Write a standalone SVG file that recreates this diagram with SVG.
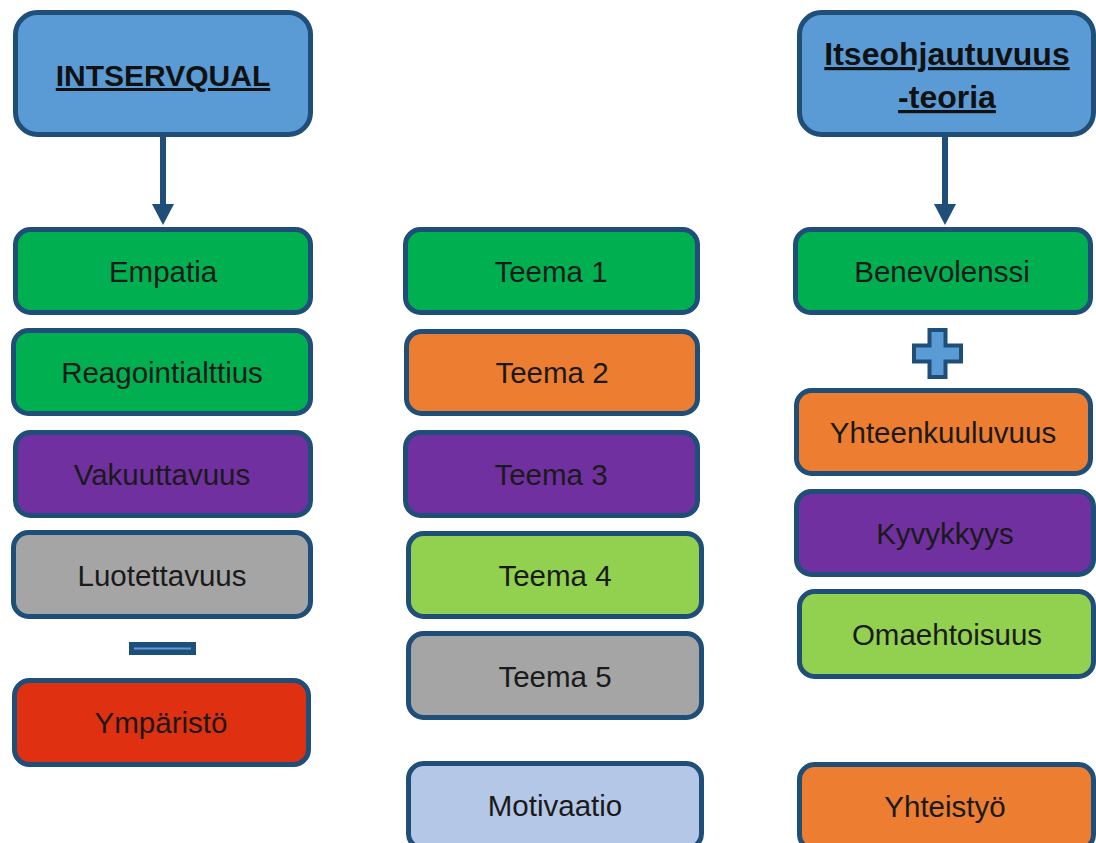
<svg xmlns="http://www.w3.org/2000/svg" width="1096" height="843" viewBox="0 0 1096 843">
<style>
.box{stroke:#1F4E79;stroke-width:5}
.lbl{font-family:"Liberation Sans",Arial,sans-serif;font-size:29.5px;fill:#1a1a1a;text-anchor:middle}
.ttl{font-family:"Liberation Sans",Arial,sans-serif;font-size:30px;font-weight:bold;fill:#111;text-anchor:middle;text-decoration:underline}
.ttl2{font-size:32px}
.blue{fill:#5B9BD5}.green{fill:#00B050}.orange{fill:#ED7D31}.purple{fill:#7030A0}.gray{fill:#A5A5A5}.lgreen{fill:#92D050}.red{fill:#DF3012}.lblue{fill:#B4C7E7}
</style>
<rect width="1096" height="843" fill="#fff"/>
<g id="connectors">
<line x1="163" y1="137" x2="163" y2="207" stroke="#1F4E79" stroke-width="6"/>
<polygon points="152,204 174,204 163,225" fill="#1F4E79"/>
<line x1="945" y1="137" x2="945" y2="207" stroke="#1F4E79" stroke-width="6"/>
<polygon points="934,204 956,204 945,225" fill="#1F4E79"/>
</g>
<g id="intservqual"><rect class="box blue" x="15.5" y="12.5" width="295" height="122" rx="22"/><text class="ttl" x="163" y="86">INTSERVQUAL</text></g>
<g id="itseohjautuvuus"><rect class="box blue" x="799.5" y="12.5" width="294" height="122" rx="22"/><text class="ttl ttl2" x="947" y="65">Itseohjautuvuus</text><text class="ttl ttl2" x="947" y="108">-teoria</text></g>
<g id="empatia"><rect class="box green" x="15.5" y="229.5" width="295" height="83" rx="15"/><text class="lbl" x="163" y="282">Empatia</text></g>
<g id="reagointialttius"><rect class="box green" x="13.5" y="330.5" width="297" height="83" rx="15"/><text class="lbl" x="162" y="383">Reagointialttius</text></g>
<g id="vakuuttavuus"><rect class="box purple" x="15.5" y="432.5" width="295" height="83" rx="15"/><text class="lbl" x="162" y="485">Vakuuttavuus</text></g>
<g id="luotettavuus"><rect class="box gray" x="13.5" y="532.5" width="297" height="84" rx="15"/><text class="lbl" x="162" y="586">Luotettavuus</text></g>
<g id="minus"><rect x="129" y="642" width="67" height="13" fill="#1F4E79"/><rect x="134" y="647.5" width="57" height="2" fill="#5B9BD5"/></g>
<g id="ymparisto"><rect class="box red" x="14.5" y="680.5" width="294" height="84" rx="15"/><text class="lbl" x="161" y="733">Ympäristö</text></g>
<g id="teema1"><rect class="box green" x="405.5" y="229.5" width="292" height="83" rx="15"/><text class="lbl" x="551" y="282">Teema 1</text></g>
<g id="teema2"><rect class="box orange" x="406.5" y="331.5" width="291" height="82" rx="15"/><text class="lbl" x="552" y="383">Teema 2</text></g>
<g id="teema3"><rect class="box purple" x="405.5" y="432.5" width="292" height="83" rx="15"/><text class="lbl" x="551" y="485">Teema 3</text></g>
<g id="teema4"><rect class="box lgreen" x="408.5" y="533.5" width="293" height="83" rx="15"/><text class="lbl" x="555" y="586">Teema 4</text></g>
<g id="teema5"><rect class="box gray" x="408.5" y="633.5" width="293" height="84" rx="15"/><text class="lbl" x="555" y="687">Teema 5</text></g>
<g id="motivaatio"><rect class="box lblue" x="408.5" y="763.5" width="293" height="85" rx="15"/><text class="lbl" x="555" y="816">Motivaatio</text></g>
<g id="benevolenssi"><rect class="box green" x="795.5" y="229.5" width="295" height="83" rx="15"/><text class="lbl" x="942" y="282">Benevolenssi</text></g>
<g id="plus"><polygon points="929.5,330 945.5,330 945.5,345.5 961,345.5 961,361.5 945.5,361.5 945.5,377 929.5,377 929.5,361.5 914,361.5 914,345.5 929.5,345.5" fill="#5B9BD5" stroke="#1F4E79" stroke-width="4"/></g>
<g id="yhteenkuuluvuus"><rect class="box orange" x="796.5" y="390.5" width="294" height="83" rx="15"/><text class="lbl" x="943" y="443">Yhteenkuuluvuus</text></g>
<g id="kyvykkyys"><rect class="box purple" x="796.5" y="491.5" width="297" height="83" rx="15"/><text class="lbl" x="945" y="544">Kyvykkyys</text></g>
<g id="omaehtoisuus"><rect class="box lgreen" x="799.5" y="591.5" width="294" height="85" rx="15"/><text class="lbl" x="947" y="645">Omaehtoisuus</text></g>
<g id="yhteistyo"><rect class="box orange" x="799.5" y="764.5" width="294" height="85" rx="15"/><text class="lbl" x="945" y="817">Yhteistyö</text></g>
</svg>
